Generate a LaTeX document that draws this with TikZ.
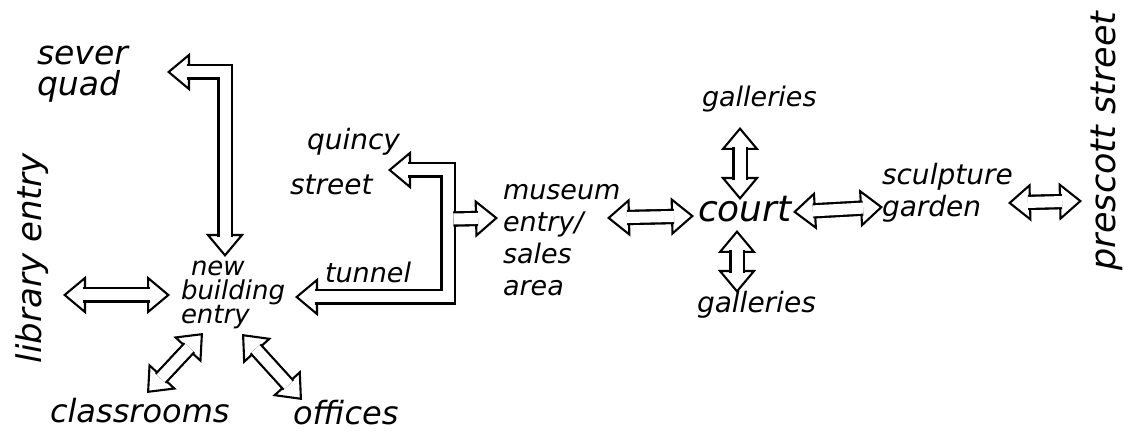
\documentclass[tikz,border=0pt]{standalone}
\usepackage{fontspec}
\setmainfont{DejaVu Sans}
\usetikzlibrary{arrows.meta,calc}
\newcommand\hw[2]{\fontsize{#1}{#2}\selectfont\itshape\lineskiplimit=-100pt\relax}
\tikzset{
  lab/.style={inner sep=0pt, outer sep=0pt, anchor=base west, align=left},
  rlab/.style={inner sep=0pt, outer sep=0pt, anchor=center, rotate=90},
  hd/.tip={Triangle[open,length=23pt,width=38pt]},
  holbase/.style={draw, double, double distance=11pt, line width=2.1pt},
  hol/.style={holbase, arrows=hd-hd,
    postaction={holbase, arrows=-, shorten <=20pt, shorten >=20pt}},
  holone/.style={holbase, arrows=-hd,
    postaction={holbase, arrows=-, shorten >=20pt}},
}
\begin{document}
\begin{tikzpicture}[x=1pt,y=-1pt]
\useasboundingbox (0,0) rectangle (1124,435);
\path[fill=white] (0,0) rectangle (1124,435);

% labels (multi-line nodes: base = baseline of last line)
\node[lab, font=\hw{33}{31}] (sever) at (37,96) {sever\\quad};
\node[rlab, font=\hw{34}{34}] (lib) at (32,258) {library entry};
\node[lab, font=\hw{26}{24}] (nb) at (181,324) {\hspace*{10pt}new\\building\\entry};
\node[lab, font=\hw{27}{27}] (tun) at (325,283) {tunnel};
\node[lab, font=\hw{28}{45}] (qs) at (290,195) {\hspace*{17pt}quincy\\street};
\node[lab, font=\hw{27}{32}] (mus) at (503,296) {museum\\entry/\\sales\\area};
\node[lab, font=\hw{27}{27}] (gt) at (702,107) {galleries};
\node[lab, font=\hw{36}{36}] (court) at (698,222) {court};
\node[lab, font=\hw{28}{28}] (gb) at (697,313) {galleries};
\node[lab, font=\hw{28}{32}] (sg) at (882,217) {sculpture\\garden};
\node[rlab, font=\hw{35}{35}] (ps) at (1107,141) {prescott street};
\node[lab, font=\hw{32}{32}] (cls) at (50,422) {classrooms};
\node[lab, font=\hw{32}{32}] (off) at (293,424) {offices};

\coordinate (jn) at ($(mus.base west)+(-55,-77)$);

% connectors
\draw[hol] ($(lib.center)+(31,37)$) -- ($(nb.base west)+(-11,-29)$);
\draw[hol] ($(sever.base west)+(130,-24)$) -| ($(nb.base west)+(44,-67)$);
\draw[hol] ($(qs.base west)+(98,-25)$) -| (jn) |- ($(nb.base west)+(114,-27)$);
\draw[holone] ($(jn)+(5.5,0)$) -- ($(mus.base west)+(-5,-78)$);
\draw[hol] ($(mus.base west)+(104,-78)$) -- ($(court.base west)+(-4,-6)$);
\draw[hol] ($(gt.base west)+(38,20)$) -- ($(court.base west)+(42,-22)$);
\draw[hol] ($(court.base west)+(39,8)$) -- ($(gb.base west)+(40,-20)$);
\draw[hol] ($(court.base west)+(95,-10)$) -- ($(sg.base west)+(1,-10)$);
\draw[hol] ($(sg.base west)+(126,-14)$) -- ($(ps.center)+(-25,60)$);
\draw[hol] ($(cls.base west)+(97,-29)$) -- ($(nb.base west)+(22,9)$);
\draw[hol] ($(off.base west)+(9,-24)$) -- ($(nb.base west)+(61,10)$);
\end{tikzpicture}
\end{document}
